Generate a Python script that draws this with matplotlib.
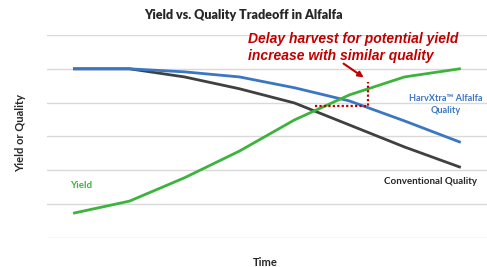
import matplotlib
matplotlib.use("Agg")
from matplotlib import pyplot as plt

# values (axis 0..6, 8 time steps)
time_steps = list(range(8))
harvxtra_quality = [5.0, 5.0, 4.91, 4.76, 4.44, 4.05, 3.46, 2.84]
conventional_quality = [5.0, 5.0, 4.76, 4.41, 3.99, 3.34, 2.69, 2.10]
yield_values = [0.74, 1.09, 1.78, 2.57, 3.49, 4.23, 4.76, 5.0]

BLUE = "#3B76C3"
BLACK = "#404040"
GREEN = "#3CB43C"
RED = "#C00000"

plt.rcParams["font.family"] = ["Lato", "DejaVu Sans"]

fig = plt.figure(figsize=(4.87, 2.67), dpi=100)
ax = fig.add_axes([0.0965, 0.1086, 0.9035, 0.7604])

for yv in range(7):
    ax.axhline(yv, color="#D9D9D9", lw=1.0, zorder=0)

ax.plot(time_steps, conventional_quality, color=BLACK, lw=2.0, zorder=3)
ax.plot(time_steps, harvxtra_quality, color=BLUE, lw=2.0, zorder=4)
ax.plot(time_steps, yield_values, color=GREEN, lw=2.0, zorder=5)

# dotted bracket showing delayed harvest
ax.plot([4.38, 5.33, 5.33], [3.91, 3.91, 4.6], color=RED, lw=1.6,
        ls=(0, (1, 1)), zorder=6)
ax.annotate("", xy=(5.3, 4.7), xytext=(4.85, 5.2),
            arrowprops=dict(arrowstyle="-|>", color=RED, lw=1.5,
                            mutation_scale=8), zorder=7)
ax.text(3.16, 6.1, "Delay harvest for potential yield\nincrease with similar quality",
        color=RED, fontsize=10, fontweight="bold", style="italic",
        ha="left", va="top", linespacing=1.3, family=["Liberation Sans"])

ax.text(6.75, 3.95, "HarvXtra\u2122 Alfalfa\nQuality", color=BLUE, fontsize=6.6,
        fontweight="bold", ha="center", va="center", linespacing=1.45)
ax.text(6.48, 1.68, "Conventional Quality", color="#262626", fontsize=7,
        fontweight="bold", ha="center", va="center")
ax.text(0.12, 1.54, "Yield", color=GREEN, fontsize=7, fontweight="bold",
        ha="center", va="center")

ax.set_xlim(-0.5, 7.5)
ax.set_ylim(0, 6)
ax.set_xticks([])
ax.set_yticks([])
for s in ax.spines.values():
    s.set_visible(False)

fig.text(0.5, 0.944, "Yield vs. Quality Tradeoff in Alfalfa", ha="center",
         va="center", fontsize=9, fontweight="heavy", color="#262626")
fig.text(0.544, 0.018, "Time", ha="center", va="center", fontsize=8,
         fontweight="bold", color="#262626")
fig.text(0.042, 0.5, "Yield or Quality", ha="center", va="center", fontsize=8,
         fontweight="bold", rotation=90, color="#262626")

fig.savefig("out.png", dpi=100)
